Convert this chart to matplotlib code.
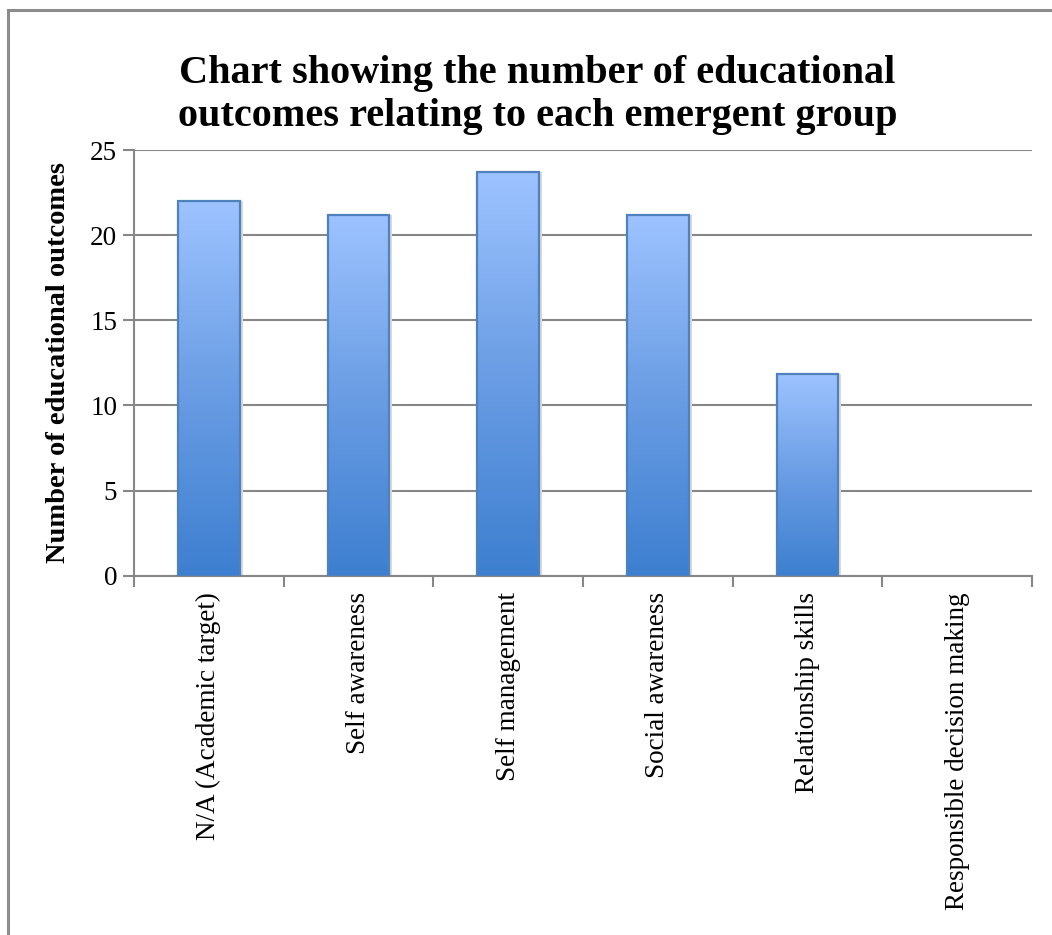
import numpy as np
import matplotlib
matplotlib.use('Agg')
import matplotlib.pyplot as plt
from matplotlib.colors import LinearSegmentedColormap
from matplotlib.patches import Rectangle

categories = ['N/A (Academic target)', 'Self awareness', 'Self management',
              'Social awareness', 'Relationship skills', 'Responsible decision making']
values = [22, 21.2, 23.7, 21.2, 11.85, 0]
y_ticks = [0, 5, 10, 15, 20, 25]

SERIF = ['Liberation Serif', 'DejaVu Serif']

fig = plt.figure(figsize=(10.52, 9.35), dpi=100)
ax = fig.add_axes([134 / 1052, 1 - 575.7 / 935, (1032 - 134) / 1052, (575.7 - 150) / 935])

# outer chart frame (cropped at right and bottom)
fig.patches.append(Rectangle((8 / 1052, -0.05), 1.1, 1.05 - 9.5 / 935,
                             transform=fig.transFigure, fill=False,
                             edgecolor='#8c8c8c', linewidth=2.2))

x = np.arange(len(categories))
bars = ax.bar(x, values, width=0.41, color='none', edgecolor='#4f81bd',
              linewidth=1.6, zorder=3)

cmap = LinearSegmentedColormap.from_list('blue_grad', ['#3d7fd0', '#6a9de4', '#9dc3ff'])
grad = np.linspace(0, 1, 256).reshape(-1, 1)
for b in bars:
    h = b.get_height()
    if h <= 0:
        b.set_linewidth(0)
        continue
    x0 = b.get_x()
    im = ax.imshow(grad, cmap=cmap, aspect='auto', origin='lower',
                   extent=(x0, x0 + b.get_width(), 0, h), zorder=2)
    im.set_clip_path(b)
    # faint drop shadow
    ax.add_patch(Rectangle((x0 + b.get_width(), 0), 0.02, h, color='#d9d9d9',
                           zorder=1, linewidth=0))

ax.set_xlim(-0.5, len(categories) - 0.5)
ax.set_ylim(0, 25)
ax.set_yticks(y_ticks)
ax.set_yticklabels([str(t) for t in y_ticks], family=SERIF, fontsize=19.5)
ax.grid(axis='y', color='#878787', linewidth=1.5, zorder=0)
ax.set_axisbelow(True)

ax.set_xticks(np.arange(-0.5, len(categories)), minor=False)
ax.set_xticklabels([])
ax.set_xticks(x, minor=True)
ax.set_xticklabels(categories, minor=True, rotation=90, family=SERIF,
                   fontsize=19.5, va='top')
ax.tick_params(axis='x', which='major', length=8, color='#878787', width=1.5)
ax.tick_params(axis='x', which='minor', length=0, pad=12)
ax.tick_params(axis='y', length=8, color='#878787', width=1.5, pad=4)

for s in ['top', 'right']:
    ax.spines[s].set_visible(False)
for s in ['left', 'bottom']:
    ax.spines[s].set_color('#878787')
    ax.spines[s].set_linewidth(1.5)

ax.set_ylabel('Number of educational outcomes', family=SERIF, fontsize=20.5,
              fontweight='bold', labelpad=14)

fig.text(0.511, 1 - 95 / 935, 'Chart showing the number of educational\n'
         'outcomes relating to each emergent group', ha='center', va='center',
         family=SERIF, fontsize=29, fontweight='bold', linespacing=1.2)

fig.savefig('out.png', dpi=100)
